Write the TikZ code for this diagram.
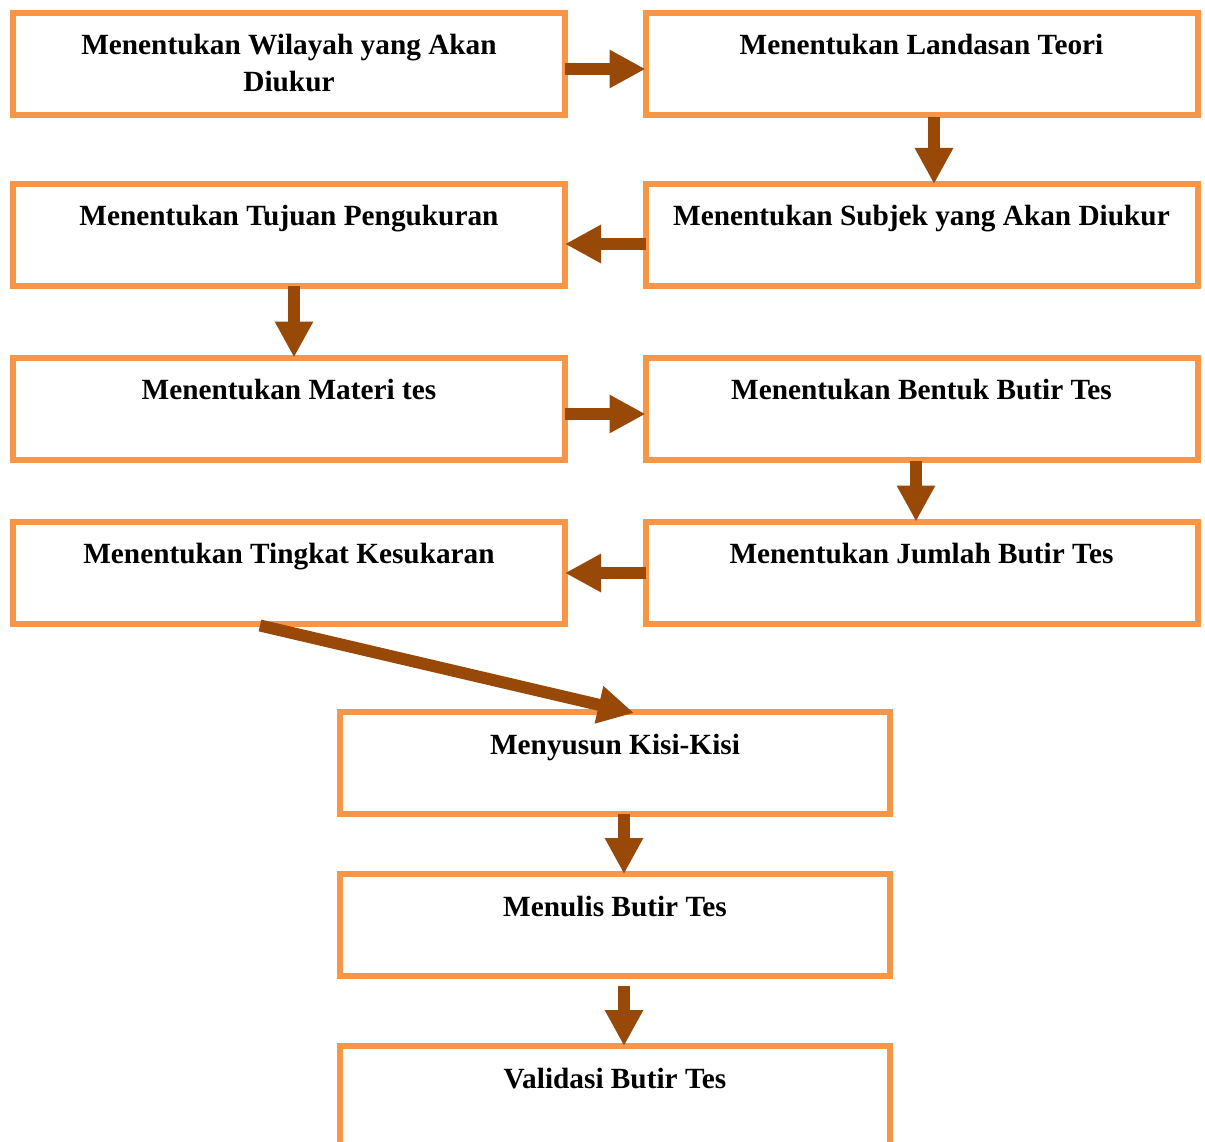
\documentclass[tikz,border=0pt]{standalone}
\usepackage{fontspec}
\setmainfont{Liberation Serif}
\usetikzlibrary{arrows.meta}
\definecolor{boxorange}{HTML}{F79646}
\definecolor{arrbrown}{HTML}{984807}
\tikzset{
  stepbox/.style={draw=boxorange, line width=6pt, minimum width=552pt, minimum height=102pt, inner sep=0pt, outer sep=0pt},
  narrowbox/.style={stepbox, minimum width=550pt},
  lbl/.style={anchor=base, align=center, inner sep=0pt, font=\bfseries\fontsize{29.3}{37}\selectfont},
  arr/.style={draw=arrbrown, line width=12pt, -{Triangle[width=36pt,length=36pt]}, fill=arrbrown}
}
\begin{document}
\begin{tikzpicture}[x=1pt,y=-1pt]
\useasboundingbox (0,0) rectangle (1205,1142);
\clip (0,0) rectangle (1205,1142);
% boxes
\node[stepbox] (b1) at (289,64) {};
\node[stepbox] (b2) at (921.5,64) {};
\node[stepbox] (b3) at (921.5,235) {};
\node[stepbox] (b4) at (289,235) {};
\node[stepbox] (b5) at (289,408.5) {};
\node[stepbox] (b6) at (921.5,408.5) {};
\node[stepbox] (b7) at (921.5,572.5) {};
\node[stepbox] (b8) at (289,572.5) {};
\node[narrowbox] (b9) at (615,763) {};
\node[narrowbox] (b10) at (615,925) {};
\node[narrowbox] (b11) at (615,1097) {};
% texts
\node[lbl] (t1a) at ([yshift=-42pt]b1.north) {Menentukan Wilayah yang Akan};
\node[lbl] (t1b) at ([yshift=-79pt]b1.north) {Diukur};
\node[lbl] (t2) at ([yshift=-42pt]b2.north) {Menentukan Landasan Teori};
\node[lbl] (t3) at ([yshift=-42pt]b3.north) {Menentukan Subjek yang Akan Diukur};
\node[lbl] (t4) at ([yshift=-42pt]b4.north) {Menentukan Tujuan Pengukuran};
\node[lbl] (t5) at ([yshift=-42pt]b5.north) {Menentukan Materi tes};
\node[lbl] (t6) at ([yshift=-42pt]b6.north) {Menentukan Bentuk Butir Tes};
\node[lbl] (t7) at ([yshift=-42pt]b7.north) {Menentukan Jumlah Butir Tes};
\node[lbl] (t8) at ([yshift=-42pt]b8.north) {Menentukan Tingkat Kesukaran};
\node[lbl] (t9) at ([yshift=-42pt]b9.north) {Menyusun Kisi-Kisi};
\node[lbl] (t10) at ([yshift=-42pt]b10.north) {Menulis Butir Tes};
\node[lbl] (t11) at ([yshift=-42pt]b11.north) {Validasi Butir Tes};
% arrows
\draw[arr] ([yshift=-5pt]b1.east) -- ([yshift=-5pt]b2.west);
\draw[arr] ([xshift=12.5pt,yshift=-2pt]b2.south) -- ([xshift=12.5pt]b3.north);
\draw[arr] ([yshift=-9pt]b3.west) -- ([yshift=-9pt]b4.east);
\draw[arr] ([xshift=5pt]b4.south) -- ([xshift=5pt]b5.north);
\draw[arr] ([yshift=-5.5pt]b5.east) -- ([yshift=-5.5pt]b6.west);
\draw[arr] ([xshift=-5.5pt,yshift=-1pt]b6.south) -- ([xshift=-5.5pt]b7.north);
\draw[arr] ([yshift=-0.5pt]b7.west) -- ([yshift=-0.5pt]b8.east);
\draw[arr] ([xshift=-29pt,yshift=-2pt]b8.south) -- ([xshift=19pt,yshift=-1pt]b9.north);
\draw[arr] ([xshift=9pt]b9.south) -- ([xshift=9pt]b10.north);
\draw[arr] ([xshift=9pt,yshift=-10pt]b10.south) -- ([xshift=9pt]b11.north);
\end{tikzpicture}
\end{document}
